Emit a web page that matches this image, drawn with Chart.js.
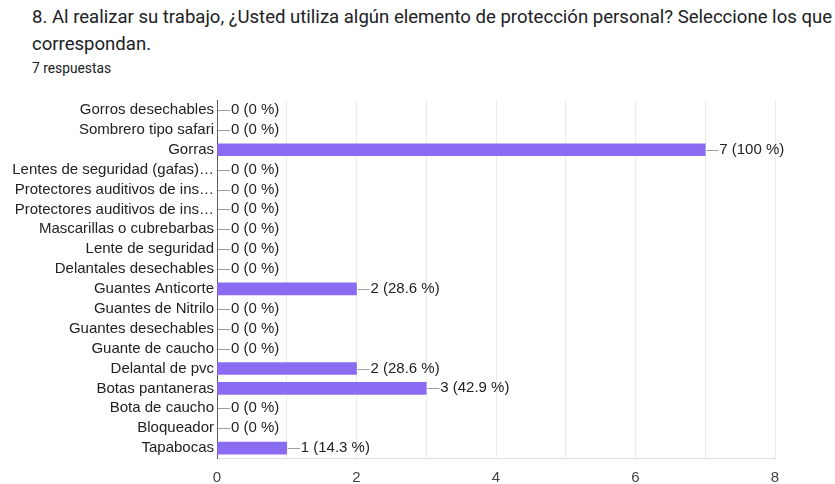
<!DOCTYPE html>
<html>
<head>
<meta charset="utf-8">
<script src="https://cdn.jsdelivr.net/npm/chart.js@4"></script>
<style>
  html, body { margin: 0; padding: 0; background: #fff; }
  #wrap { position: relative; width: 835px; height: 484px; overflow: hidden; }
  .title { position: absolute; left: 32px; font-family: Roboto, 'Noto Sans', sans-serif; color: #202124; font-size: 18px; white-space: nowrap; transform-origin: 0 0; }
  .sub { position: absolute; left: 32px; top: 60px; font-family: Roboto, sans-serif; color: #202124; font-size: 13.8px; }
  canvas { position: absolute; left: 0; top: 0; }
</style>
</head>
<body>
<div id="wrap">
  <div class="title" id="t1" style="top:6px">8. Al realizar su trabajo, ¿Usted utiliza algún elemento de protección personal? Seleccione los que</div>
  <div class="title" id="t2" style="top:33px">correspondan.</div>
  <div class="sub">7 respuestas</div>
  <canvas id="chart" width="835" height="484"></canvas>
</div>
<script>
// ---- データ ----
const categories = [
  'Gorros desechables',
  'Sombrero tipo safari',
  'Gorras',
  'Lentes de seguridad (gafas)…',
  'Protectores auditivos de ins…',
  'Protectores auditivos de ins…',
  'Mascarillas o cubrebarbas',
  'Lente de seguridad',
  'Delantales desechables',
  'Guantes Anticorte',
  'Guantes de Nitrilo',
  'Guantes desechables',
  'Guante de caucho',
  'Delantal de pvc',
  'Botas pantaneras',
  'Bota de caucho',
  'Bloqueador',
  'Tapabocas',
];
const counts = [0, 0, 7, 0, 0, 0, 0, 0, 0, 2, 0, 0, 0, 2, 3, 0, 0, 1];
const totalResponses = 7;
const xTicks = [0, 2, 4, 6, 8];

const barColor = '#8a6cf2';
const fontFamily = '"Liberation Sans", Arial, sans-serif';

// タイトル幅を元画像 (約 800px) に合わせる
const t1 = document.getElementById('t1');
const sx = 800 / t1.getBoundingClientRect().width;
t1.style.transform = `scaleX(${sx})`;
document.getElementById('t2').style.transform = `scaleX(${sx})`;

// ---- バー末尾のラベル（線 + 件数 (%)）----
const valueLabels = {
  id: 'valueLabels',
  afterDatasetsDraw(chart) {
    const ctx = chart.ctx;
    const meta = chart.getDatasetMeta(0);
    ctx.save();
    ctx.font = `15px ${fontFamily}`;
    ctx.textBaseline = 'middle';
    ctx.textAlign = 'left';
    meta.data.forEach((bar, i) => {
      const v = counts[i];
      const pct = Math.round(v / totalResponses * 1000) / 10;
      const x = bar.x;
      const y = Math.round(bar.y) + 0.5;
      ctx.strokeStyle = '#9e9e9e';
      ctx.lineWidth = 1;
      ctx.beginPath();
      ctx.moveTo(x + 1, y);
      ctx.lineTo(x + 13, y);
      ctx.stroke();
      ctx.fillStyle = '#222';
      ctx.fillText(`${v} (${pct} %)`, x + 14, y - 0.5);
    });
    ctx.restore();
  },
};

new Chart(document.getElementById('chart'), {
  type: 'bar',
  data: {
    labels: categories,
    datasets: [{
      data: counts,
      backgroundColor: barColor,
      borderWidth: 0,
      barThickness: 12,
    }],
  },
  options: {
    indexAxis: 'y',
    responsive: false,
    animation: false,
    layout: { padding: { top: 100, right: 60, bottom: 0, left: 0 } },
    plugins: {
      legend: { display: false },
      tooltip: { enabled: false },
    },
    scales: {
      x: {
        min: 0,
        max: 8,
        afterFit: (s) => { s.height = 26; },
        ticks: {
          stepSize: 1,
          padding: 11,
          color: '#444',
          font: { family: fontFamily, size: 15 },
          callback: (v) => (xTicks.includes(v) ? String(v) : ''),
        },
        grid: { color: '#ebebeb', drawTicks: false },
        border: { color: '#e0e0e0' },
      },
      y: {
        afterFit: (s) => { s.width = 217; },
        ticks: {
          padding: 3,
          color: '#222',
          autoSkip: false,
          font: { family: fontFamily, size: 15 },
        },
        grid: { display: false, drawTicks: false },
        border: { color: '#555', width: 1 },
      },
    },
  },
  plugins: [valueLabels],
});
</script>
</body>
</html>
